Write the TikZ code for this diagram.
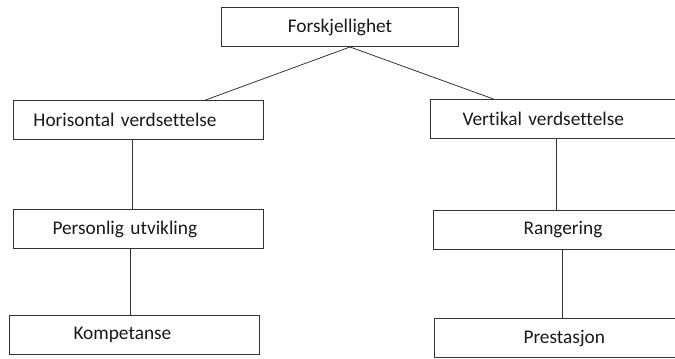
\documentclass[tikz,border=0pt]{standalone}
\usepackage{fontspec}
\setmainfont{Carlito}[Ligatures=NoCommon]
\begin{document}
\begin{tikzpicture}[
			x=0.75pt, y=-0.75pt,
			box/.style={
				rectangle,
				draw=black!80,
				line width=0.75pt,
				anchor=north west,
				minimum height=29.25pt,
				align=left,
				text=black!90,
				font=\fontsize{14.5}{17}\selectfont,
			},
			conn/.style={% plain connecting lines
				draw=black!80,
				line width=0.6pt,
			},
			]
				\useasboundingbox (0,0) rectangle (675,358);
				\clip (0,0) rectangle (675,358);
				% top
				\node[box, align=center, minimum width=177.75pt] (top) at (221,7) {Forskjellighet};
				% left branch
				\node[box, inner xsep=15pt, text width=157.5pt] (hor) at (13,100) {Horisontal verdsettelse};
				\node[box, inner xsep=29.25pt, text width=129pt] (per) at (13,209) {Personlig utvikling};
				\node[box, inner xsep=48pt, text width=91.5pt] (komp) at (9,315) {Kompetanse};
				% right branch
				\node[box, inner xsep=24pt, text width=162pt] (vert) at (430,99) {Vertikal verdsettelse};
				\node[box, inner xsep=67.5pt, text width=75pt] (rang) at (433,210) {Rangering};
				\node[box, inner xsep=66.75pt, text width=76.5pt] (prest) at (434,318) {Prestasjon};
				
				\draw[conn] ([xshift=7.5pt]top.south) -- ([xshift=50.25pt]hor.north);
				\draw[conn] ([xshift=7.5pt]top.south) -- ([xshift=-57.75pt]vert.north);
				
				\draw[conn] ([xshift=-4.5pt]hor.south) coordinate (h1) -- (h1 |- per.north);
				\draw[conn] ([xshift=-6pt]per.south) coordinate (p1) -- (p1 |- komp.north);
				
				\draw[conn] ([xshift=-10.5pt]vert.south) coordinate (v1) -- (v1 |- rang.north);
				\draw[conn] ([xshift=-8.25pt]rang.south) coordinate (r1) -- (r1 |- prest.north);
			\end{tikzpicture}
\end{document}
